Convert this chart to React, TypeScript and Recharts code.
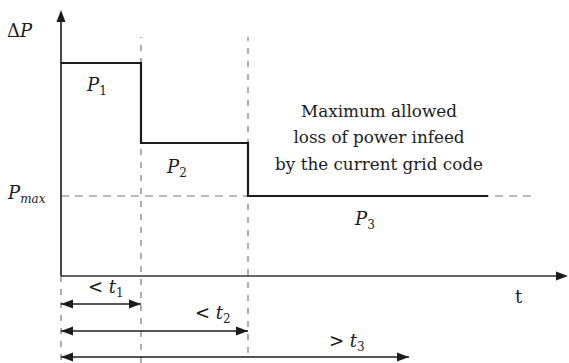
import React from "react";
import {
  ComposedChart,
  Line,
  XAxis,
  YAxis,
  ReferenceLine,
  ReferenceDot,
} from "recharts";

// time axis (arbitrary units), power levels (arbitrary units)
const stepTimes = [0, 80, 187, 427];
const stepLevels = [213, 133, 80, 80];
const pMaxLevel = 80;
const pMaxEnd = 475;
const boundaryTimes = [80, 187];
const boundaryBottoms = [-87, -77];
const boundaryTop = 239;
const axisBelowEnd = -87;
const xAxisEnd = 507;
const yAxisEnd = 266;

const spanFrom = [0, 0, 0];
const spanTo = [80, 187, 348];
const spanLevel = [-28, -55, -81];
const spanRelation = ["<", "<", ">"];
const spanIndex = ["1", "2", "3"];
const spanLabelX = [27, 134, 268];
const spanLabelY = [-17, -43, -71];

const powerNames = ["1", "2", "3"];
const powerLabelX = [26, 106, 294];
const powerLabelY = [185, 103, 51];

const noteLines = [
  "Maximum allowed",
  "loss of power infeed",
  "by the current grid code",
];
const noteX = 318;
const noteY = [159, 133, 106];

const FONT = "DejaVu Serif, serif";
const INK = "#1c1c1c";
const DASH = "#777";

const stepData = stepTimes.map((x, i) => ({ x, y: stepLevels[i] }));

const arrowTips = [
  { x: xAxisEnd, y: 0, dir: "right" },
  { x: 0, y: yAxisEnd, dir: "up" },
  ...spanFrom.map((x, i) => ({ x, y: spanLevel[i], dir: "left" })),
  ...spanTo.map((x, i) => ({ x, y: spanLevel[i], dir: "right" })),
];

const arrowHead = (dir: string) => (props: any) => {
  const { cx, cy } = props;
  const L = 12;
  const W = 4.5;
  let pts = "";
  if (dir === "right") pts = `${cx},${cy} ${cx - L},${cy - W} ${cx - L},${cy + W}`;
  else if (dir === "left") pts = `${cx},${cy} ${cx + L},${cy - W} ${cx + L},${cy + W}`;
  else pts = `${cx},${cy} ${cx - W},${cy + L} ${cx + W},${cy + L}`;
  return <polygon points={pts} fill={INK} />;
};

const mathText = (content: React.ReactNode) => (props: any) =>
  (
    <text
      x={props.cx}
      y={props.cy}
      style={{ fontFamily: FONT, fontSize: 18 }}
      fill={INK}
    >
      {content}
    </text>
  );

const plainText = (content: string) => (props: any) =>
  (
    <text
      x={props.cx}
      y={props.cy}
      style={{ fontFamily: FONT, fontSize: 16.8 }}
      fill={INK}
      textAnchor="middle"
    >
      {content}
    </text>
  );

const sub = (s: string) => (
  <tspan style={{ fontSize: 12 }} dy={4}>
    {s}
  </tspan>
);

export default function App() {
  return (
    <div style={{ position: "absolute", left: 0, top: 0, background: "#fff" }}>
      <ComposedChart
        width={569}
        height={363}
        margin={{ top: 10, right: 1, bottom: 0, left: 61 }}
      >
        <XAxis
          dataKey="x"
          type="number"
          domain={[0, xAxisEnd]}
          allowDataOverflow
          hide
        />
        <YAxis
          type="number"
          domain={[axisBelowEnd, yAxisEnd]}
          allowDataOverflow
          hide
        />

        {/* dashed guides */}
        <ReferenceLine
          segment={[
            { x: 0, y: pMaxLevel },
            { x: pMaxEnd, y: pMaxLevel },
          ]}
          stroke={DASH}
          strokeDasharray="8 6"
          strokeWidth={1.2}
        />
        {boundaryTimes.map((t, i) => (
          <ReferenceLine
            key={`b${i}`}
            segment={[
              { x: t, y: boundaryBottoms[i] },
              { x: t, y: boundaryTop },
            ]}
            stroke={DASH}
            strokeDasharray="6 7"
            strokeWidth={1.2}
          />
        ))}
        <ReferenceLine
          segment={[
            { x: 0, y: 0 },
            { x: 0, y: axisBelowEnd },
          ]}
          stroke={DASH}
          strokeDasharray="6 7"
          strokeWidth={1.2}
        />

        {/* axes */}
        <ReferenceLine
          segment={[
            { x: 0, y: 0 },
            { x: xAxisEnd - 8, y: 0 },
          ]}
          stroke="#333"
          strokeWidth={1.5}
        />
        <ReferenceLine
          segment={[
            { x: 0, y: 0 },
            { x: 0, y: yAxisEnd - 8 },
          ]}
          stroke="#333"
          strokeWidth={1.8}
        />

        {/* time spans */}
        {spanTo.map((t, i) => (
          <ReferenceLine
            key={`s${i}`}
            segment={[
              { x: spanFrom[i], y: spanLevel[i] },
              { x: t, y: spanLevel[i] },
            ]}
            stroke={INK}
            strokeWidth={1.5}
          />
        ))}

        <Line
          data={stepData}
          dataKey="y"
          type="stepAfter"
          stroke={INK}
          strokeWidth={2.2}
          dot={false}
          isAnimationActive={false}
        />

        {arrowTips.map((a, i) => (
          <ReferenceDot
            key={`a${i}`}
            x={a.x}
            y={a.y}
            r={0}
            ifOverflow="visible"
            shape={arrowHead(a.dir)}
          />
        ))}

        {/* labels */}
        <ReferenceDot
          x={-54}
          y={239}
          r={0}
          ifOverflow="visible"
          shape={mathText(
            <>
              <tspan>Δ</tspan>
              <tspan fontStyle="italic">P</tspan>
            </>
          )}
        />
        <ReferenceDot
          x={-53}
          y={77}
          r={0}
          ifOverflow="visible"
          shape={mathText(
            <>
              <tspan fontStyle="italic">P</tspan>
              <tspan style={{ fontSize: 12 }} fontStyle="italic" dy={4}>
                max
              </tspan>
            </>
          )}
        />
        {powerNames.map((n, i) => (
          <ReferenceDot
            key={`p${i}`}
            x={powerLabelX[i]}
            y={powerLabelY[i]}
            r={0}
            ifOverflow="visible"
            shape={mathText(
              <>
                <tspan fontStyle="italic">P</tspan>
                {sub(n)}
              </>
            )}
          />
        ))}
        {spanIndex.map((n, i) => (
          <ReferenceDot
            key={`l${i}`}
            x={spanLabelX[i]}
            y={spanLabelY[i]}
            r={0}
            ifOverflow="visible"
            shape={mathText(
              <>
                <tspan>{spanRelation[i]} </tspan>
                <tspan fontStyle="italic">t</tspan>
                {sub(n)}
              </>
            )}
          />
        ))}
        <ReferenceDot
          x={454}
          y={-27}
          r={0}
          ifOverflow="visible"
          shape={mathText(<tspan>t</tspan>)}
        />
        {noteLines.map((s, i) => (
          <ReferenceDot
            key={`n${i}`}
            x={noteX}
            y={noteY[i]}
            r={0}
            ifOverflow="visible"
            shape={plainText(s)}
          />
        ))}
      </ComposedChart>
    </div>
  );
}
